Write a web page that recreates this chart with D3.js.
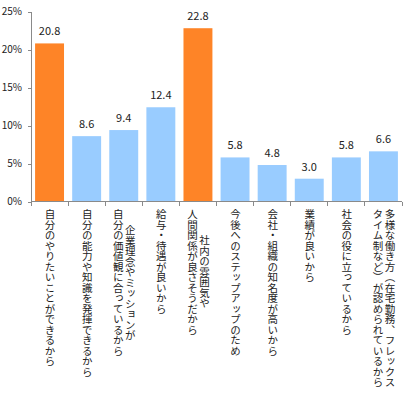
<!DOCTYPE html>
<html>
<head>
<meta charset="utf-8">
<script src="https://cdn.jsdelivr.net/npm/d3@7"></script>
<style>
  body { margin: 0; background: #fff; }
  .chart { position: relative; width: 410px; height: 397px; }
  svg { display: block; }
  text { font-family: "Noto Sans CJK JP", "Noto Sans", sans-serif; fill: #222; }
  .cat {
    position: absolute;
    writing-mode: vertical-rl;
    white-space: nowrap;
    text-align: center;
    font-family: "Noto Sans CJK JP", sans-serif;
    font-size: 10.5px;
    line-height: 12px;
    color: #222;
    display: inline-block;
  }
</style>
</head>
<body>
<div class="chart"></div>
<script>
var categories = [
  ["自分のやりたいことができるから"],
  ["自分の能力や知識を発揮できるから"],
  ["企業理念やミッションが", "自分の価値観に合っているから"],
  ["給与・待遇が良いから"],
  ["社内の雰囲気や", "人間関係が良さそうだから"],
  ["今後へのステップアップのため"],
  ["会社・組織の知名度が高いから"],
  ["業績が良いから"],
  ["社会の役に立っているから"],
  ["多様な働き方（在宅勤務、フレックス", "タイム制など）が認められているから"]
];
var values = [20.8, 8.6, 9.4, 12.4, 22.8, 5.8, 4.8, 3.0, 5.8, 6.6];
var highlight = [true, false, false, false, true, false, false, false, false, false];
var yTicks = [0, 5, 10, 15, 20, 25];

var width = 410, height = 397;
var chart = d3.select(".chart");
var svg = chart.append("svg")
    .attr("width", width)
    .attr("height", height);

var x = d3.scaleBand()
    .domain(d3.range(categories.length))
    .range([31, 402])
    .paddingInner(0.22)
    .paddingOuter(0.11);

var y = d3.scaleLinear()
    .domain([0, 25])
    .range([201.5, 11.5]);

// bars
svg.selectAll("rect.bar")
    .data(values)
  .enter().append("rect")
    .attr("class", "bar")
    .attr("x", function(d, i) { return x(i); })
    .attr("y", function(d) { return y(d); })
    .attr("width", x.bandwidth())
    .attr("height", function(d) { return y(0) - y(d); })
    .style("fill", function(d, i) { return highlight[i] ? "#FE8427" : "#99CCFF"; });

// value labels
svg.selectAll("text.val")
    .data(values)
  .enter().append("text")
    .attr("class", "val")
    .attr("x", function(d, i) { return x(i) + x.bandwidth() / 2; })
    .attr("y", function(d) { return y(d) - 8; })
    .attr("text-anchor", "middle")
    .style("font-size", "11px")
    .text(function(d) { return d.toFixed(1); });

// y axis
var yAxis = svg.append("g")
    .attr("transform", "translate(31,0)")
    .call(d3.axisLeft(y).tickValues(yTicks).tickSize(3).tickPadding(6)
      .tickFormat(function(d) { return d + "%"; }));

// x axis line with ticks at category boundaries
var boundaries = d3.range(categories.length + 1).map(function(i) { return 31 + i * (371 / categories.length); });
svg.append("line")
    .attr("x1", 31).attr("x2", 402)
    .attr("y1", y(0)).attr("y2", y(0));
svg.selectAll("line.xt")
    .data(boundaries)
  .enter().append("line")
    .attr("class", "xt")
    .attr("x1", function(d) { return d; })
    .attr("x2", function(d) { return d; })
    .attr("y1", y(0))
    .attr("y2", y(0) + 4);

yAxis.select(".domain").attr("d", "M0," + y(25) + "V" + y(0));
yAxis.selectAll("text").style("font-size", "10px").style("fill", "#222");
svg.selectAll("line, .domain")
    .style("stroke", "#8a8a8a")
    .style("stroke-width", "1px")
    .style("shape-rendering", "crispEdges");
yAxis.selectAll(".tick line").style("stroke", "#8a8a8a");

// category labels (vertical text, lines right to left)
var lineH = 12, labelTop = 209;
chart.selectAll("div.cat")
    .data(categories)
  .enter().append("div")
    .attr("class", "cat")
    .style("left", function(d, i) { return (x(i) + x.bandwidth() / 2 - d.length * lineH / 2) + "px"; })
    .style("top", labelTop + "px")
    .html(function(d) { return d.join("<br>"); });
</script>
</body>
</html>
